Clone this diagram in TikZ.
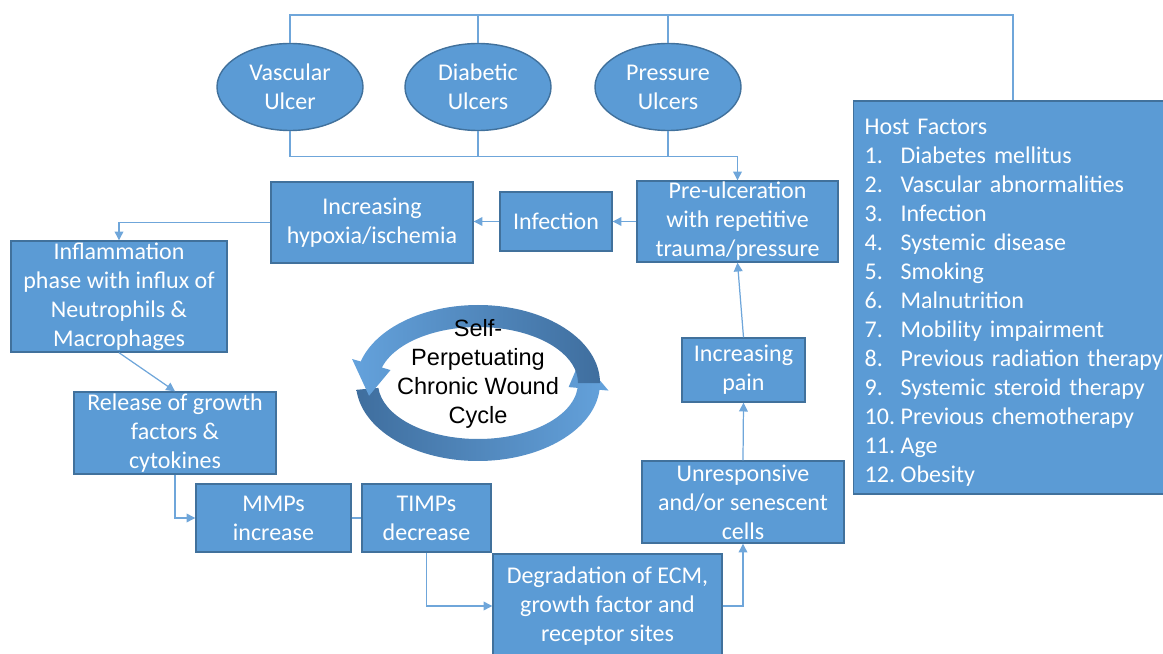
\documentclass[tikz,border=0pt]{standalone}
\usepackage{fontspec}
\setmainfont{Carlito}
\newfontfamily\cyclefont{Liberation Sans}
\usetikzlibrary{calc, arrows.meta, positioning, shapes.geometric}
\definecolor{boxfill}{HTML}{5B9BD5}
\definecolor{boxborder}{HTML}{41719C}
\definecolor{linkcolor}{HTML}{6FA6DA}
\definecolor{ringlight}{HTML}{64A2DC}
\definecolor{ringdark}{HTML}{3F6E9E}
\newcommand{\hostitem}[2]{\makebox[0.72cm][l]{#1}#2}

\begin{document}
\begin{tikzpicture}[
    >={Triangle[length=5pt, width=5pt]},
    line width=0.7pt,
    font=\fontsize{13.66}{16.5}\selectfont,
    block/.style 2 args={draw=boxborder, fill=boxfill, text=white, line width=0.8pt, minimum width=#1, minimum height=#2, inner sep=0pt, align=center},
    ulcer/.style={ellipse, draw=boxborder, fill=boxfill, text=white, line width=0.8pt, minimum width=2.92cm, minimum height=1.74cm, inner sep=0pt, align=center},
    hostbox/.style={draw=boxborder, fill=boxfill, text=white, line width=0.8pt, text width=6.0cm, minimum height=7.86cm, inner xsep=0.22cm, align=left, anchor=west},
    link/.style={draw=linkcolor, line width=0.7pt},
    flow/.style={link, ->}
]
    \useasboundingbox (0,0) rectangle (23.26,-13.08);

    % Ulcer types
    \node[ulcer] (vasc) at (5.80, -1.74) {Vascular\\Ulcer};
    \node[ulcer] (diab) at (9.56, -1.74) {Diabetic\\Ulcers};
    \node[ulcer] (press) at (13.36, -1.74) {Pressure\\Ulcers};

    % Host factors
    \node[hostbox] (host) at (17.06, -5.95) {\rule{0pt}{14.5pt}Host Factors\\
        \hostitem{1.}{Diabetes mellitus}\\
        \hostitem{2.}{Vascular abnormalities}\\
        \hostitem{3.}{Infection}\\
        \hostitem{4.}{Systemic disease}\\
        \hostitem{5.}{Smoking}\\
        \hostitem{6.}{Malnutrition}\\
        \hostitem{7.}{Mobility impairment}\\
        \hostitem{8.}{Previous radiation therapy}\\
        \hostitem{9.}{Systemic steroid therapy}\\
        \hostitem{10.}{Previous chemotherapy}\\
        \hostitem{11.}{Age}\\
        \hostitem{12.}{Obesity}};

    % Wound cycle steps
    \node[block={4.02cm}{1.62cm}] (preulc) at (14.75, -4.43) {Pre-ulceration\\with repetitive\\trauma/pressure};
    \node[block={2.24cm}{1.18cm}] (infect) at (11.12, -4.43) {Infection};
    \node[block={4.04cm}{1.62cm}] (hypox) at (7.44, -4.45) {Increasing\\hypoxia/ischemia};
    \node[block={4.32cm}{2.22cm}] (inflam) at (2.38, -5.93) {Inflammation\\phase with influx of\\Neutrophils \&\\Macrophages};
    \node[block={4.04cm}{1.64cm}] (release) at (3.50, -8.66) {Release of growth\\factors \&\\cytokines};
    \node[block={3.10cm}{1.36cm}] (mmps) at (5.47, -10.36) {MMPs\\increase};
    \node[block={2.58cm}{1.36cm}] (timps) at (8.53, -10.36) {TIMPs\\decrease};
    \node[block={4.58cm}{2.08cm}] (degrad) at (12.15, -12.12) {Degradation of ECM,\\growth factor and\\receptor sites};
    \node[block={4.04cm}{1.64cm}] (unresp) at (14.86, -10.04) {Unresponsive\\and/or senescent\\cells};
    \node[block={2.46cm}{1.28cm}] (pain) at (14.87, -7.40) {Increasing\\pain};

    % Brackets round the ulcers
    \coordinate (topbar) at (20.26, -0.30);
    \coordinate (lowbar) at ($(preulc.north)+(0,0.48)$);
    \draw[link] (vasc.north) |- (topbar) -- (topbar |- host.north);
    \draw[link] (diab.north) -- (diab.north |- topbar);
    \draw[link] (press.north) -- (press.north |- topbar);
    \draw[flow] (vasc.south) |- (lowbar) -- (preulc.north);
    \draw[link] (diab.south) -- (diab.south |- lowbar);
    \draw[link] (press.south) -- (press.south |- lowbar);

    % Cycle connections
    \draw[flow] (preulc.west) -- (preulc.west -| infect.east);
    \draw[flow] (infect.west) -- (infect.west -| hypox.east);
    \draw[flow] (hypox.west) -| (inflam.north);
    \draw[flow] (inflam.south) -- (release.north);
    \draw[flow] (release.south) |- (mmps.west);
    \draw[link] (mmps.east) -- (timps.west);
    \draw[flow] (timps.south) |- (degrad.west);
    \draw[flow] (degrad.east) -| (unresp.south);
    \draw[flow] (unresp.north) -- (pain.south);
    \draw[flow] (pain.north) -- (preulc.south);

    % Circular arrows in the middle
    \coordinate (ring) at (9.56, -7.66);
    \shade[left color=ringdark, right color=ringlight]
        ($(ring)+(185:2.44 and 1.56)$) arc[start angle=185, end angle=355, x radius=2.44, y radius=1.56]
        -- ($(ring)+(355:2.62 and 1.74)$) -- ($(ring)+(22:2.22 and 1.34)$)
        -- ($(ring)+(355:1.82 and 0.94)$) -- ($(ring)+(355:2.00 and 1.12)$)
        arc[start angle=355, end angle=185, x radius=2.00, y radius=1.12] -- cycle;
    \shade[left color=ringlight, right color=ringdark]
        ($(ring)+(0:2.44 and 1.56)$) arc[start angle=0, end angle=164, x radius=2.44, y radius=1.56]
        -- ($(ring)+(164:2.62 and 1.74)$) -- ($(ring)+(191:2.22 and 1.34)$)
        -- ($(ring)+(164:1.82 and 0.94)$) -- ($(ring)+(164:2.00 and 1.12)$)
        arc[start angle=164, end angle=0, x radius=2.00, y radius=1.12] -- cycle;
    \node[font=\cyclefont\fontsize{13.4}{16.5}\selectfont, align=center] (cycle) at (9.56, -7.48) {Self-\\Perpetuating\\Chronic Wound\\Cycle};

\end{tikzpicture}
\end{document}
